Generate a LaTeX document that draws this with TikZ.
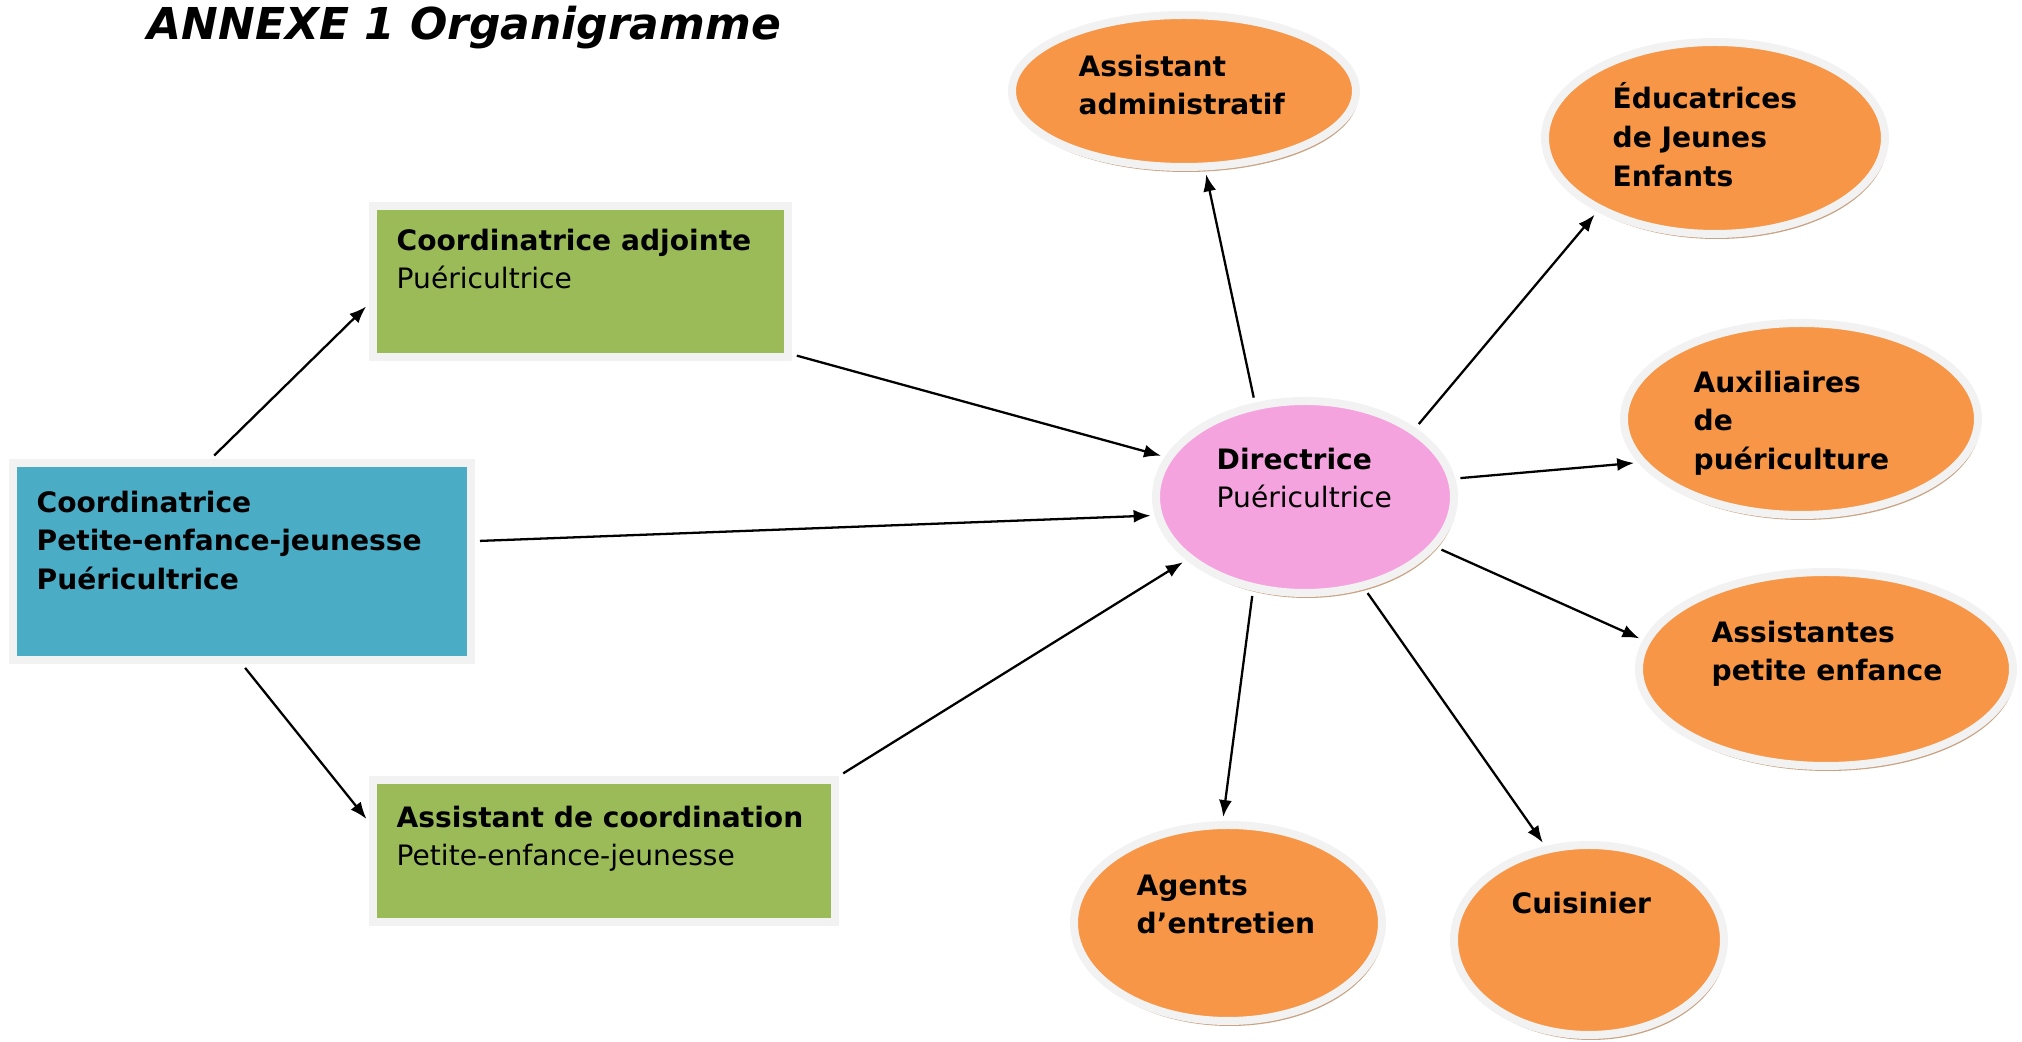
\documentclass[tikz,border=0pt]{standalone}
\usepackage{fontspec}
\setmainfont{DejaVu Sans}
\usepackage{tikz}
\usetikzlibrary{shapes.geometric,shadows,arrows.meta}

\definecolor{boxgreen}{HTML}{9BBB59}
\definecolor{boxblue}{HTML}{4BACC6}
\definecolor{ovalorange}{HTML}{F79646}
\definecolor{dirpink}{HTML}{F5A3DE}
\definecolor{rimgray}{HTML}{F2F2F2}
\definecolor{shadowtan}{HTML}{C9A383}
\definecolor{shadowgreen}{HTML}{A6AF94}
\definecolor{shadowblue}{HTML}{8EA8B0}

\tikzset{
	orgbox/.style={rectangle, draw=rimgray, line width=0.08cm, inner sep=0pt},
	oval/.style={ellipse, draw=rimgray, line width=0.08cm, fill=ovalorange, inner sep=0pt,
		drop shadow={shadow xshift=0.02cm, shadow yshift=-0.05cm, fill=shadowtan, opacity=1}},
	txt/.style={anchor=north west, inner sep=0pt, align=left, font=\fontsize{8}{11}\selectfont},
	link/.style={-{Latex[length=1.7mm,width=1.3mm]}, line width=0.65pt, shorten <=0.5mm, shorten >=0.4mm}
}

\begin{document}
\begin{tikzpicture}
	\useasboundingbox (0,0) rectangle (20.22,10.42);
	\node[anchor=base west, inner sep=0pt, font=\fontsize{12.5}{15}\selectfont\bfseries\itshape] (title) at (1.47,10.02) {ANNEXE 1 Organigramme};
	% cadres
	\node[orgbox, fill=boxgreen, minimum width=4.15cm, minimum height=1.51cm,
		drop shadow={shadow xshift=0.02cm, shadow yshift=-0.04cm, fill=shadowgreen, opacity=1}] (adj) at (5.805,7.605) {};
	\node[orgbox, fill=boxblue, minimum width=4.58cm, minimum height=1.97cm,
		drop shadow={shadow xshift=0.02cm, shadow yshift=-0.04cm, fill=shadowblue, opacity=1}] (coord) at (2.42,4.805) {};
	\node[orgbox, fill=boxgreen, minimum width=4.62cm, minimum height=1.42cm,
		drop shadow={shadow xshift=0.02cm, shadow yshift=-0.04cm, fill=shadowgreen, opacity=1}] (asst) at (6.04,1.91) {};
	\node[txt] (adjtxt) at (3.96,8.14) {\textbf{Coordinatrice adjointe}\\Puéricultrice};
	\node[txt] (coordtxt) at (0.36,5.52) {\textbf{Coordinatrice}\\\textbf{Petite-enfance-jeunesse}\\\textbf{Puéricultrice}};
	\node[txt] (assttxt) at (3.96,2.37) {\textbf{Assistant de coordination}\\Petite-enfance-jeunesse};
	% ovales
	\node[oval, fill=dirpink, minimum width=2.98cm, minimum height=1.92cm] (dir) at (13.05,5.45) {};
	\node[oval, minimum width=3.44cm, minimum height=1.52cm] (admin) at (11.84,9.51) {};
	\node[oval, minimum width=3.40cm, minimum height=1.92cm] (educ) at (17.15,9.04) {};
	\node[oval, minimum width=3.54cm, minimum height=1.92cm] (aux) at (18.01,6.23) {};
	\node[oval, minimum width=3.74cm, minimum height=1.94cm] (ape) at (18.26,3.73) {};
	\node[oval, minimum width=3.08cm, minimum height=1.96cm] (agents) at (12.28,1.19) {};
	\node[oval, minimum width=2.70cm, minimum height=1.90cm] (cuis) at (15.89,1.02) {};
	\node[txt] (dirtxt) at (12.16,5.95) {\textbf{Directrice}\\Puéricultrice};
	\node[txt] (admintxt) at (10.78,9.88) {\textbf{Assistant}\\\textbf{administratif}};
	\node[txt] (eductxt) at (16.12,9.60) {\textbf{Éducatrices}\\\textbf{de Jeunes}\\\textbf{Enfants}};
	\node[txt] (auxtxt) at (16.93,6.72) {\textbf{Auxiliaires}\\\textbf{de}\\\textbf{puériculture}};
	\node[txt] (apetxt) at (17.11,4.22) {\textbf{Assistantes}\\\textbf{petite enfance}};
	\node[txt] (agentstxt) at (11.36,1.68) {\textbf{Agents}\\\textbf{d’entretien}};
	\node[txt] (cuistxt) at (15.11,1.51) {\textbf{Cuisinier}};
	% liens
	\draw[link] (coord.107) -- (adj.186);
	\draw[link] (coord.south) -- (asst.173);
	\draw[link] (adj.-19) -- (dir.164);
	\draw[link] (coord.5.5) -- (dir.187);
	\draw[link] (asst.north east) -- (dir.208);
	\draw[link] (dir.118) -- (admin.-75);
	\draw[link] (dir.32) -- (educ.212);
	\draw[link] (dir.7) -- (aux.195);
	\draw[link] (dir.-21) -- (ape.171);
	\draw[link] (dir.241) -- (agents.93.5);
	\draw[link] (dir.-57) -- (cuis.115);
\end{tikzpicture}
\end{document}
